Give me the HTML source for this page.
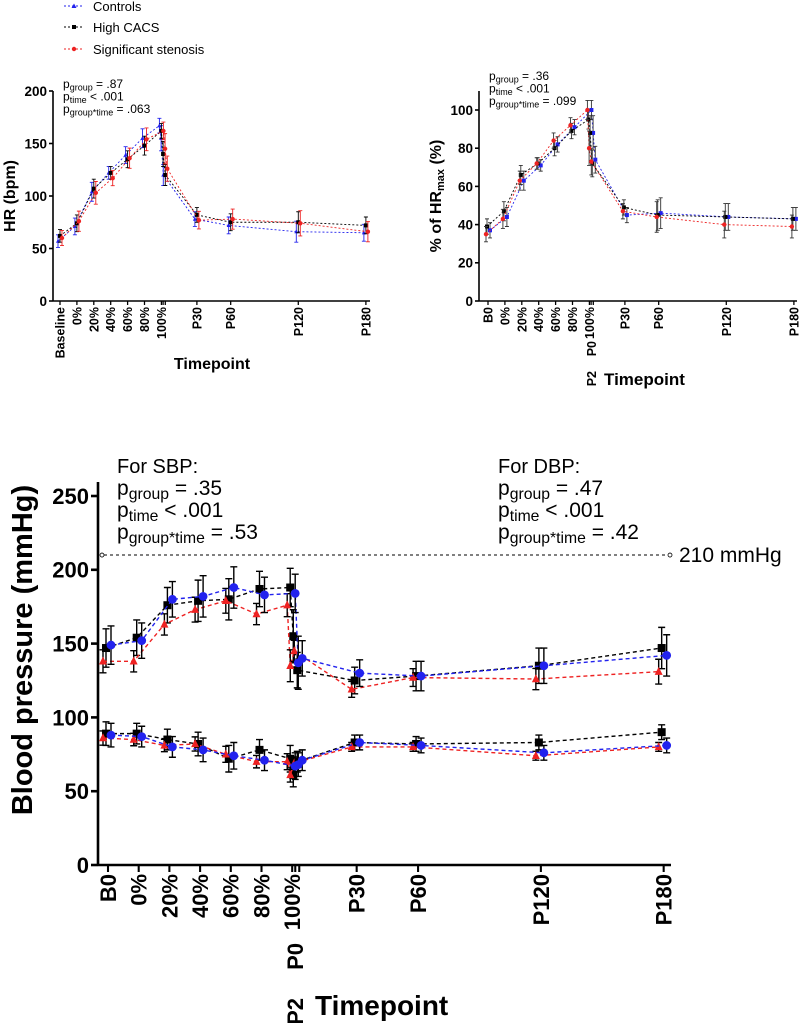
<!DOCTYPE html>
<html><head><meta charset="utf-8"><style>
html,body{margin:0;padding:0;background:#fff;width:800px;height:1023px;overflow:hidden}
svg{display:block;font-family:"Liberation Sans",Arial,sans-serif}
</style></head><body>
<svg id="fig" width="800" height="1023" viewBox="0 0 800 1023">
<g>
 <g><line x1="64" y1="6" x2="84" y2="6" stroke="#2222ee" stroke-dasharray="2,2"/><path d="M74,3.5 L76.5,8 L71.5,8Z" fill="#2222ee"/><text x="93" y="11" font-size="13">Controls</text></g>
 <g><line x1="64" y1="27" x2="84" y2="27" stroke="#000" stroke-dasharray="2,2"/><rect x="72" y="25" width="4" height="4" fill="#000"/><text x="93" y="32" font-size="13">High CACS</text></g>
 <g><line x1="64" y1="49" x2="84" y2="49" stroke="#ee2222" stroke-dasharray="2,2"/><circle cx="74" cy="49" r="2.2" fill="#ee2222"/><text x="93" y="54" font-size="13">Significant stenosis</text></g>
</g>
</svg>
<script>
// x positions in 15-min units: B0,0%,20%,40%,60%,80%,100%,P0,P2,P30,P60,P120,P180
const timeUnits=[0,1,2,3,4,5,6,6.1,6.23,8.1,10.1,14.1,18.1];
// HR chart
const hrControls=[57,71,104,122,139,155,167,155,120,78,72,66,65];
const hrCacs=[62,74,107,122,135,148,162,140,120,82,75,75,72];
const hrSten=[60,76,103,117,136,154,162,145,126,77,78,74,66];
const hrErr=[6,8,9,6,8,9,7,12,10,7,8,10,8];
const hrTicks=[0,50,100,150,200];
const hrLabels=["Baseline","0%","20%","40%","60%","80%","100%","","","P30","P60","P120","P180"];
// %HRmax chart
const pctControls=[37,44,63,71,82,91,100,88,74,45,46,44,43];
const pctCacs=[39,47,66,72,80,89,95,88,72,49,45,44,43];
const pctSten=[35,43,63,72,84,92,100,80,73,47,44,40,39];
const pctErr=[4,5,5,3,4,4,5,9,7,4,8,7,6];
const pctTicks=[0,20,40,60,80,100];
const pctLabels=["B0","0%","20%","40%","60%","80%","100%","","","P30","P60","P120","P180"];
// Blood pressure chart
const sbpControls=[149,152,180,182,188,183,184,137,140,130,128,135,142];
const sbpCacs=[147,154,176,179,180,187,188,155,132,125,128,135,147];
const sbpSten=[138,138,163,173,179,170,176,135,145,119,127,126,131];
const dbpControls=[88,87,80,78,74,71,67,68,71,83,81,76,81];
const dbpCacs=[89,89,85,82,72,78,72,61,70,83,82,83,90];
const dbpSten=[86,85,81,82,75,70,70,61,69,80,80,74,80];
const sbpErr=[13,12,12,14,14,12,13,18,12,9,10,12,14];
const dbpErr=[8,7,7,8,9,7,9,8,7,5,5,5,5];
const bpTicks=[0,50,100,150,200,250];
const bpLabels=["B0","0%","20%","40%","60%","80%","100%","","","P30","P60","P120","P180"];
const limitValue=210;

const NS="http://www.w3.org/2000/svg";
const svg=document.getElementById('fig');
function mk(tag,attrs,parent,txt){const e=document.createElementNS(NS,tag);for(const k in attrs)e.setAttribute(k,attrs[k]);if(txt!==undefined)e.textContent=txt;(parent||svg).appendChild(e);return e;}
const COL={blue:"#2222ee",black:"#000",red:"#ee2222"};

function chart(c){
  const g=mk('g',{});
  
  
  const xs=t=>c.x0+t*c.unit;
  const ys=v=>c.y0-v*c.k;
  const ax=mk('g',{},g);
  
  
  mk('line',{x1:c.ax,y1:c.top,x2:c.ax,y2:c.y0,stroke:'#000','stroke-width':c.aw},ax);
  c.ticks.forEach(v=>{
    mk('line',{x1:c.ax-c.tl,y1:ys(v),x2:c.ax,y2:ys(v),stroke:'#000','stroke-width':c.aw},ax);
    const t=mk('text',{x:c.ax-c.tl-2,y:ys(v)+c.tf*0.36,'text-anchor':'end','font-size':c.tf,'font-weight':'bold'},ax,v);
    
    
  });
  const xa=mk('g',{},g);
  
  
  mk('line',{x1:c.ax,y1:c.y0,x2:c.xend,y2:c.y0,stroke:'#000','stroke-width':c.aw},xa);
  const xf=c.xf||c.tf;
  timeUnits.forEach((t,i)=>{
    mk('line',{x1:xs(t),y1:c.y0,x2:xs(t),y2:c.y0+c.tl,stroke:'#000','stroke-width':c.aw*0.8},xa);
    if(c.labels[i]){
      const tx=mk('text',{transform:`translate(${xs(t)+xf*0.36},${c.y0+c.tl+2}) rotate(-90)`,'text-anchor':'end','font-size':xf,'font-weight':'bold'},xa,c.labels[i]);
      
      
    }
  });
  c.series.forEach(s=>{
    const sg=mk('g',{},g);
    
    
    const pts=s.vals.map((v,i)=>[xs(timeUnits[i])+s.dx,ys(v)]);
    mk('polyline',{points:pts.map(p=>p.join(',')).join(' '),fill:'none',stroke:COL[s.col],'stroke-width':c.lw,'stroke-dasharray':c.dash},sg);
    s.vals.forEach((v,i)=>{
      const x=pts[i][0],e=s.err[i]*s.ef,y1=ys(v+e),y2=ys(v-e),cw=c.cap;
      mk('path',{d:`M${x},${y1}V${y2}M${x-cw},${y1}H${x+cw}M${x-cw},${y2}H${x+cw}`,stroke:c.errCol||COL[s.col],'stroke-width':c.ew,fill:'none'},sg);
    });
    s.vals.forEach((v,i)=>{
      const [x,y]=pts[i],r=c.mr;let m;
      if(s.shape==='sq')m=mk('rect',{x:x-r,y:y-r,width:2*r,height:2*r,fill:COL[s.col]},sg);
      else if(s.shape==='ci')m=mk('circle',{cx:x,cy:y,r:r*1.1,fill:COL[s.col]},sg);
      else m=mk('path',{d:`M${x},${y-r*1.2}L${x+r},${y+r*0.8}L${x-r},${y+r*0.8}Z`,fill:COL[s.col]},sg);
      
      
    });
  });
  return {g,xs,ys};
}
function ptext(parent,x,y,fs,lh,vals){
  const g=mk('g',{},parent);
  
  
  const subs=['group','time','group*time'];
  vals.forEach((v,i)=>{
    const t=mk('text',{x:x,y:y+i*lh,'font-size':fs},g);
    mk('tspan',{},t,'p');
    mk('tspan',{'font-size':fs*0.75,dy:fs*0.2},t,subs[i]);
    mk('tspan',{dy:-fs*0.2},t,' '+v);
  });
}

// HR chart
const hr=chart({name:'hr-chart',x0:60,unit:16.9,y0:301,k:1.05,top:91,ax:53,xend:370,ticks:hrTicks,labels:hrLabels,tf:13.5,xf:12.5,tl:4,aw:1.6,lw:0.9,dash:'2,2',ew:0.9,cap:2,mr:2,
 series:[{id:'controls',vals:hrControls,err:hrErr,ef:1,col:'blue',shape:'tri',dx:-2},{id:'high-cacs',vals:hrCacs,err:hrErr,ef:1,col:'black',shape:'sq',dx:0},{id:'stenosis',vals:hrSten,err:hrErr,ef:1.2,col:'red',shape:'ci',dx:2}]});
ptext(hr.g,63,88,12,12.5,['= .87','< .001','= .063']);
let t=mk('text',{transform:'translate(15,196) rotate(-90)','text-anchor':'middle','font-size':16,'font-weight':'bold'},hr.g,'HR (bpm)');

t=mk('text',{x:212,y:369,'text-anchor':'middle','font-size':16,'font-weight':'bold'},hr.g,'Timepoint');


// %HRmax chart
const pc=chart({name:'hrmax-chart',x0:488,unit:16.9,y0:301,k:1.91,top:91,ax:479,xend:797,ticks:pctTicks,labels:pctLabels,tf:13.5,xf:12.5,tl:4,aw:1.6,lw:0.9,dash:'2,2',ew:0.9,cap:2,mr:2,errCol:'#333',
 series:[{id:'controls',vals:pctControls,err:pctErr,ef:1,col:'blue',shape:'sq',dx:2},{id:'high-cacs',vals:pctCacs,err:pctErr,ef:1,col:'black',shape:'sq',dx:-1},{id:'stenosis',vals:pctSten,err:pctErr,ef:1,col:'red',shape:'ci',dx:-2}]});
ptext(pc.g,489,80,12,12.5,['= .36','< .001','= .099']);
t=mk('text',{transform:'translate(441,196) rotate(-90)','text-anchor':'middle','font-size':16,'font-weight':'bold'},pc.g);
mk('tspan',{},t,'% of HR');mk('tspan',{'font-size':11,dy:3},t,'max');mk('tspan',{dy:-3},t,' (%)');

t=mk('text',{transform:`translate(${pc.xs(6.1)+5},341) rotate(-90)`,'text-anchor':'end','font-size':12.5,'font-weight':'bold'},pc.g,'P0');

t=mk('text',{transform:`translate(${pc.xs(6.1)+5},371) rotate(-90)`,'text-anchor':'end','font-size':12.5,'font-weight':'bold'},pc.g,'P2');

t=mk('text',{x:604,y:385,'font-size':17,'font-weight':'bold'},pc.g,'Timepoint');


// BP chart
const bp=chart({name:'blood-pressure-chart',x0:108,unit:30.7,y0:865,k:1.476,top:482,ax:98,xend:671,ticks:bpTicks,labels:bpLabels,tf:22,tl:7,aw:2.6,lw:1.4,dash:'4,3',ew:1.4,cap:3.5,mr:4,errCol:'#000',
 series:[{id:'sbp-high-cacs',vals:sbpCacs,err:sbpErr,ef:1,col:'black',shape:'sq',dx:-2},{id:'sbp-stenosis',vals:sbpSten,err:sbpErr,ef:0.6,col:'red',shape:'tri',dx:-5},{id:'sbp-controls',vals:sbpControls,err:sbpErr,ef:1,col:'blue',shape:'ci',dx:3},
  {id:'dbp-high-cacs',vals:dbpCacs,err:dbpErr,ef:1,col:'black',shape:'sq',dx:-2},{id:'dbp-stenosis',vals:dbpSten,err:dbpErr,ef:0.6,col:'red',shape:'tri',dx:-5},{id:'dbp-controls',vals:dbpControls,err:dbpErr,ef:1,col:'blue',shape:'ci',dx:3}]});
const ly=bp.ys(limitValue);
const lim=mk('g',{},bp.g);

mk('line',{x1:104,y1:ly,x2:668,y2:ly,stroke:'#000','stroke-width':1,'stroke-dasharray':'3,3'},lim);
mk('circle',{cx:102,cy:ly,r:2,fill:'#fff',stroke:'#000','stroke-width':0.8},lim);
mk('circle',{cx:670,cy:ly,r:2,fill:'#fff',stroke:'#000','stroke-width':0.8},lim);
mk('text',{x:679,y:ly+7,'font-size':21},lim,limitValue+' mmHg');
t=mk('text',{x:117,y:473,'font-size':20},bp.g,'For SBP:');
ptext(bp.g,117,495,21,22,['= .35','< .001','= .53']);
t=mk('text',{x:498,y:473,'font-size':20},bp.g,'For DBP:');
ptext(bp.g,498,495,21,22,['= .47','< .001','= .42']);
t=mk('text',{transform:'translate(32,650) rotate(-90)','text-anchor':'middle','font-size':29,'font-weight':'bold'},bp.g,'Blood pressure (mmHg)');

t=mk('text',{transform:`translate(303,943) rotate(-90)`,'text-anchor':'end','font-size':22,'font-weight':'bold'},bp.g,'P0');

t=mk('text',{transform:`translate(303,998) rotate(-90)`,'text-anchor':'end','font-size':22,'font-weight':'bold'},bp.g,'P2');

t=mk('text',{x:315,y:1015,'font-size':28,'font-weight':'bold'},bp.g,'Timepoint');

</script>
</body></html>
